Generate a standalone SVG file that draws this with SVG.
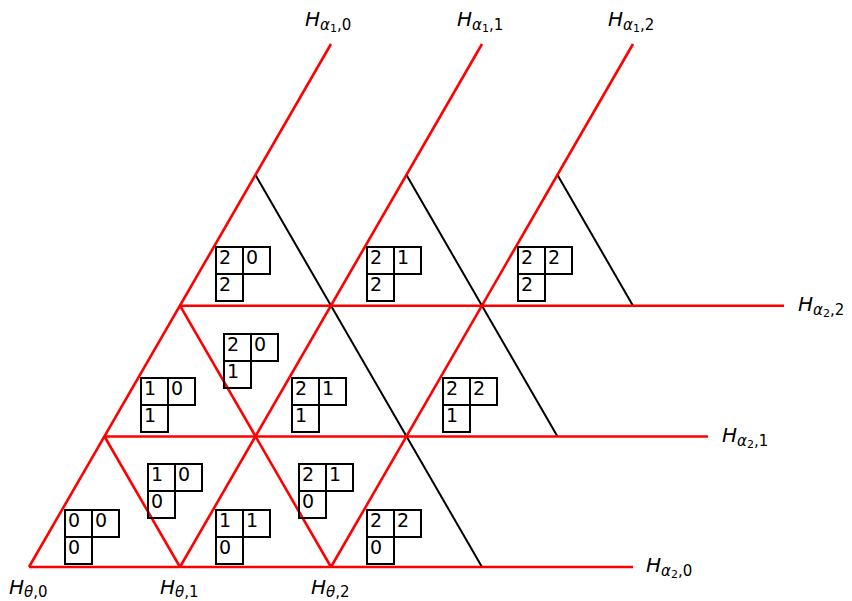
<svg xmlns="http://www.w3.org/2000/svg" xmlns:xlink="http://www.w3.org/1999/xlink" width="852" height="601" viewBox="0 0 852 601">
<style>
.red{stroke:#ff0000;stroke-width:2.6;fill:none;stroke-linecap:butt}
.blk{stroke:#000;stroke-width:2;fill:none}
.tab{stroke:#000;stroke-width:2;fill:none}
.d{font-family:"DejaVu Sans",sans-serif;font-size:19px;fill:#000}
.lab{font-family:"DejaVu Sans",sans-serif;fill:#000}
.H{font-size:20px;font-style:italic}
.g{font-size:15px;font-style:italic}
.s{font-size:15px}
.ss{font-size:11px}
</style>
<defs>
<path id="tab" d="M0,0 H54 V27 H0 Z M27,0 V54 H0 V27"/>
</defs>
<rect width="852" height="601" fill="#fff"/>
<g id="connectors">
<line class="blk" x1="255.5" y1="175" x2="482" y2="567"/>
<line class="blk" x1="406.5" y1="175" x2="557.5" y2="436.5"/>
<line class="blk" x1="557.5" y1="175" x2="633" y2="305.7"/>
<line class="red" x1="29" y1="567" x2="633" y2="567"/>
<line class="red" x1="104.5" y1="436.5" x2="708" y2="436.5"/>
<line class="red" x1="180" y1="305.7" x2="784" y2="305.7"/>
<line class="red" x1="29" y1="567" x2="331" y2="44"/>
<line class="red" x1="180" y1="567" x2="482" y2="44"/>
<line class="red" x1="331" y1="567" x2="633" y2="44"/>
<line class="red" x1="104.5" y1="436.5" x2="180" y2="567"/>
<line class="red" x1="180" y1="305.7" x2="331" y2="567"/>
</g>
<g id="t00"><use xlink:href="#tab" class="tab" x="65" y="510"/><text class="d" x="68" y="527">0</text><text class="d" x="95" y="527">0</text><text class="d" x="68" y="554">0</text></g>
<g id="t10_0"><use xlink:href="#tab" class="tab" x="148" y="464"/><text class="d" x="151" y="481">1</text><text class="d" x="178" y="481">0</text><text class="d" x="151" y="508">0</text></g>
<g id="t11_0"><use xlink:href="#tab" class="tab" x="216" y="510"/><text class="d" x="219" y="527">1</text><text class="d" x="246" y="527">1</text><text class="d" x="219" y="554">0</text></g>
<g id="t21_0"><use xlink:href="#tab" class="tab" x="299" y="464"/><text class="d" x="302" y="481">2</text><text class="d" x="329" y="481">1</text><text class="d" x="302" y="508">0</text></g>
<g id="t22_0"><use xlink:href="#tab" class="tab" x="367" y="510"/><text class="d" x="370" y="527">2</text><text class="d" x="397" y="527">2</text><text class="d" x="370" y="554">0</text></g>
<g id="t10_1"><use xlink:href="#tab" class="tab" x="141" y="378"/><text class="d" x="144" y="395">1</text><text class="d" x="171" y="395">0</text><text class="d" x="144" y="422">1</text></g>
<g id="t20_1"><use xlink:href="#tab" class="tab" x="224" y="334"/><text class="d" x="227" y="351">2</text><text class="d" x="254" y="351">0</text><text class="d" x="227" y="378">1</text></g>
<g id="t21_1"><use xlink:href="#tab" class="tab" x="292" y="378"/><text class="d" x="295" y="395">2</text><text class="d" x="322" y="395">1</text><text class="d" x="295" y="422">1</text></g>
<g id="t22_1"><use xlink:href="#tab" class="tab" x="443" y="378"/><text class="d" x="446" y="395">2</text><text class="d" x="473" y="395">2</text><text class="d" x="446" y="422">1</text></g>
<g id="t20_2"><use xlink:href="#tab" class="tab" x="216" y="247"/><text class="d" x="219" y="264">2</text><text class="d" x="246" y="264">0</text><text class="d" x="219" y="291">2</text></g>
<g id="t21_2"><use xlink:href="#tab" class="tab" x="367" y="247"/><text class="d" x="370" y="264">2</text><text class="d" x="397" y="264">1</text><text class="d" x="370" y="291">2</text></g>
<g id="t22_2"><use xlink:href="#tab" class="tab" x="518" y="247"/><text class="d" x="521" y="264">2</text><text class="d" x="548" y="264">2</text><text class="d" x="521" y="291">2</text></g>
<g id="labels">
<text class="lab" x="305" y="26"><tspan class="H">H</tspan><tspan class="g" dy="4">α</tspan><tspan class="ss" dy="2">1</tspan><tspan class="s" dy="-2">,0</tspan></text>
<text class="lab" x="457" y="26"><tspan class="H">H</tspan><tspan class="g" dy="4">α</tspan><tspan class="ss" dy="2">1</tspan><tspan class="s" dy="-2">,1</tspan></text>
<text class="lab" x="608" y="26"><tspan class="H">H</tspan><tspan class="g" dy="4">α</tspan><tspan class="ss" dy="2">1</tspan><tspan class="s" dy="-2">,2</tspan></text>
<text class="lab" x="798" y="311"><tspan class="H">H</tspan><tspan class="g" dy="4">α</tspan><tspan class="ss" dy="2">2</tspan><tspan class="s" dy="-2">,2</tspan></text>
<text class="lab" x="722" y="442"><tspan class="H">H</tspan><tspan class="g" dy="4">α</tspan><tspan class="ss" dy="2">2</tspan><tspan class="s" dy="-2">,1</tspan></text>
<text class="lab" x="646" y="572"><tspan class="H">H</tspan><tspan class="g" dy="4">α</tspan><tspan class="ss" dy="2">2</tspan><tspan class="s" dy="-2">,0</tspan></text>
<text class="lab" x="9" y="594"><tspan class="H">H</tspan><tspan class="g" dy="3">θ</tspan><tspan class="s">,0</tspan></text>
<text class="lab" x="160" y="594"><tspan class="H">H</tspan><tspan class="g" dy="3">θ</tspan><tspan class="s">,1</tspan></text>
<text class="lab" x="311" y="594"><tspan class="H">H</tspan><tspan class="g" dy="3">θ</tspan><tspan class="s">,2</tspan></text>
</g>
</svg>
